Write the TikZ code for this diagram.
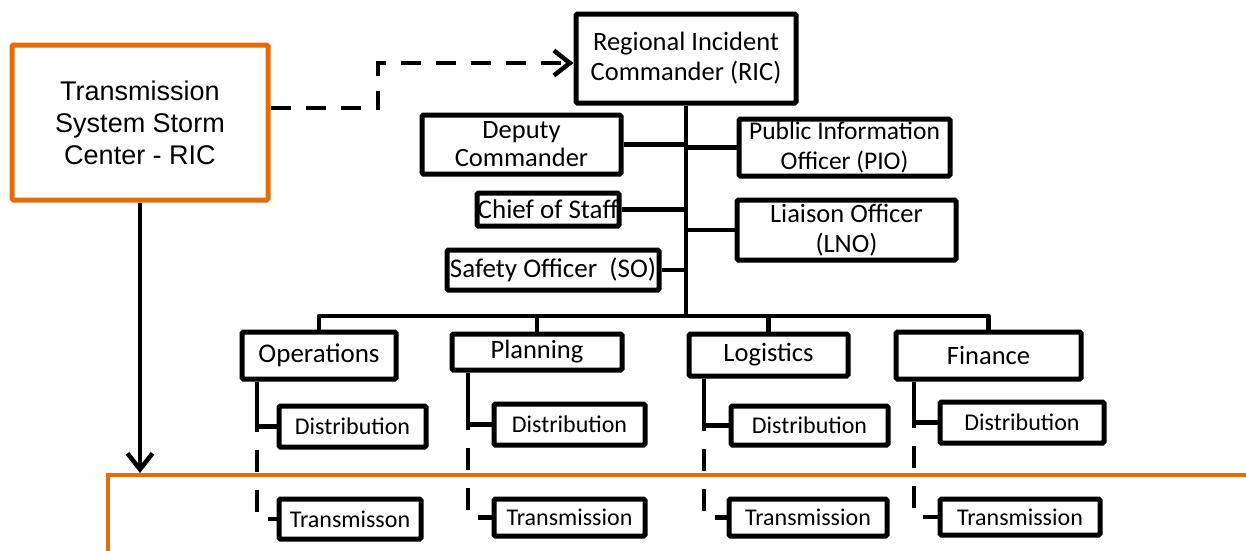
\documentclass[tikz,border=0pt]{standalone}
\usepackage{fontspec}
\setmainfont{Carlito}
\newfontfamily\arialfont{Liberation Sans}
\usetikzlibrary{arrows.meta}
\definecolor{stormorange}{HTML}{E46C0A}
\begin{document}
\begin{tikzpicture}[x=1pt,y=-1pt,
  box/.style={draw=black,line width=5pt,rounded corners=1.5pt,inner sep=0pt,align=center,
    font=\fontsize{26.5}{30}\selectfont},
  subbox/.style={box,font=\fontsize{24}{28}\selectfont},
  tbox/.style={box,font=\fontsize{24}{27}\selectfont},
  link/.style={line width=4.5pt},
  dlink/.style={line width=4.5pt,dash pattern=on 22pt off 18pt,dash phase=17pt},
  tip/.style={-{Straight Barb[length=16pt,width=25pt,line width=4.5pt]}}
]
\useasboundingbox (0,0) rectangle (1246,550);
\fill[white] (0,0) rectangle (1246,550);

% orange lower region
\draw[stormorange,line width=4.5pt] (108,475) -- (1300,475);
\draw[stormorange,line width=4.5pt] (108,473) -- (108,600);
\coordinate (otop) at (140,473);

% left storm centre box
\node[draw=stormorange,line width=5pt,rounded corners=1.5pt,minimum width=256pt,minimum height=155pt,
  align=center,font=\arialfont\fontsize{27}{32}\selectfont] (tss) at (140,122.5)
  {Transmission\\System Storm\\Center - RIC};

% top command
\node[box,minimum width=220pt,minimum height=89pt] (ric) at (686,58.5) {Regional Incident\\Commander (RIC)};
\node[box,minimum width=199pt,minimum height=59pt,font=\fontsize{26.5}{28}\selectfont] (dep) at (521.5,144.5) {Deputy\\Commander};
\node[box,minimum width=211pt,minimum height=57pt,font=\fontsize{25.5}{30}\selectfont] (pio) at (844.5,147.5) {Public Information\\Officer (PIO)};
\node[box,minimum width=142pt,minimum height=33pt,font=\fontsize{27}{30}\selectfont] (cos) at (548,209.5) {Chief of Staff};
\node[box,minimum width=219pt,minimum height=60pt] (lno) at (846.5,230) {Liaison Officer\\(LNO)};
\node[box,minimum width=212pt,minimum height=40pt,font=\fontsize{27}{30}\selectfont] (so) at (553,270) {Safety Officer~~(SO)};

% sections
\node[box,minimum width=154pt,minimum height=47pt,font=\fontsize{27}{30}\selectfont] (ops) at (319,355.5) {Operations};
\node[box,minimum width=170pt,minimum height=36pt,font=\fontsize{26.5}{30}\selectfont] (pln) at (537,352) {Planning};
\node[box,minimum width=159pt,minimum height=42pt,font=\fontsize{26.5}{30}\selectfont] (log) at (768.5,355) {Logistics};
\node[box,minimum width=185pt,minimum height=47pt,font=\fontsize{26.5}{30}\selectfont] (fin) at (988.5,355.5) {Finance};

% sub boxes
\node[subbox,minimum width=147pt,minimum height=41pt] (opsd) at (352.5,426.5) {Distribution};
\node[tbox,minimum width=142pt,minimum height=40pt] (opst) at (350,519) {Transmisson};
\node[subbox,minimum width=151pt,minimum height=41pt] (plnd) at (569.5,424.5) {Distribution};
\node[tbox,minimum width=151pt,minimum height=37pt] (plnt) at (569.5,517.5) {Transmission};
\node[subbox,minimum width=157pt,minimum height=39pt] (logd) at (809.5,425.5) {Distribution};
\node[tbox,minimum width=158pt,minimum height=37pt] (logt) at (808,517.5) {Transmission};
\node[subbox,minimum width=164pt,minimum height=41pt] (find) at (1022,422.5) {Distribution};
\node[tbox,minimum width=160pt,minimum height=36pt] (fint) at (1020,517) {Transmission};

% dashed arrow from storm centre to RIC
\coordinate (p1) at ([yshift=14.5pt]tss.east);
\coordinate (p2) at ([yshift=-4.5pt]ric.west);
\coordinate (bend) at (378,0);
\draw[line width=4.5pt,dash pattern=on 20pt off 15pt,tip] (p1) -- (p1 -| bend) -- (bend |- p2) -- (p2);

% down arrow
\draw[line width=4.5pt,tip] (tss.south) -- (tss.south |- otop);

% trunk and staff links
\coordinate (bar) at (0,316);
\draw[link] (ric.south) -- (ric.south |- bar);
\draw[link] (dep.east) -- (dep.east -| ric.south);
\draw[link] (pio.west) -- (pio.west -| ric.south);
\draw[link] (cos.east) -- (cos.east -| ric.south);
\draw[link] (lno.west) -- (lno.west -| ric.south);
\draw[link] (so.east) -- (so.east -| ric.south);

% section bar
\draw[link,line join=round] (ops.north) -- (ops.north |- bar) -- (fin.north |- bar) -- (fin.north);
\draw[link] (pln.north) -- (pln.north |- bar);
\draw[link] (log.north) -- (log.north |- bar);

% sub-lines
\coordinate (xo) at (257,0);
\coordinate (xp) at (468,0);
\coordinate (xl) at (704,0);
\coordinate (xf) at (914,0);
\foreach \x/\s/\d/\t in {xo/ops/opsd/opst, xp/pln/plnd/plnt, xl/log/logd/logt, xf/fin/find/fint}{
  \draw[link] (\x |- \s.south) -- ([yshift=-5pt]\x |- \d.west);
  \draw[link] (\x |- \d.west) -- (\d.west);
  \draw[dlink] (\x |- \d.west) -- (\x |- \t.west) -- (\t.west);
}
\end{tikzpicture}
\end{document}
